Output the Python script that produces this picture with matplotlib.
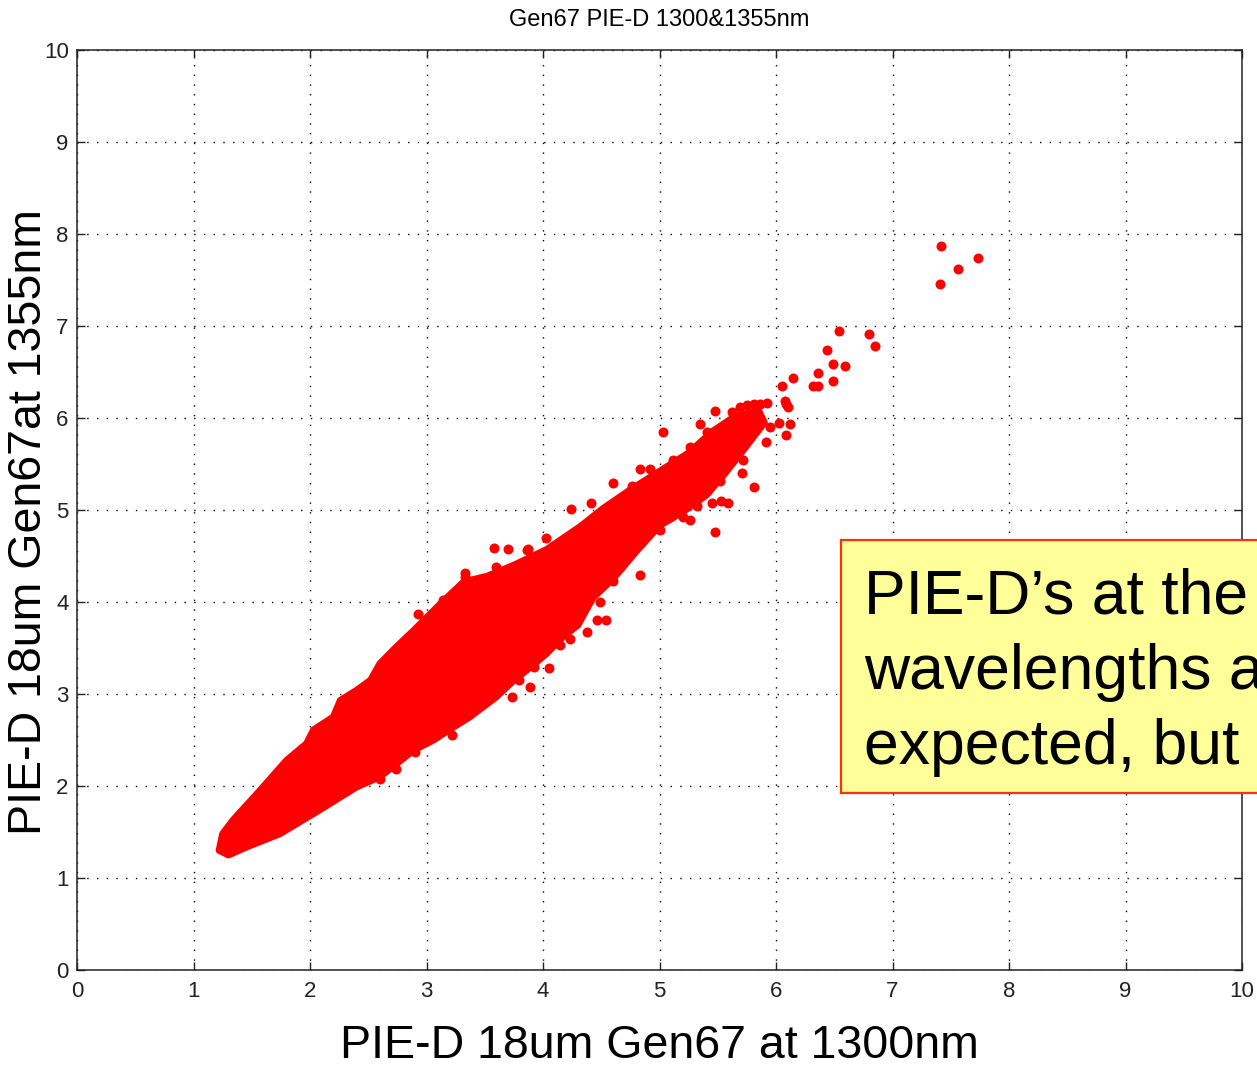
import numpy as np
import matplotlib.pyplot as plt
from matplotlib.patches import Rectangle

# ============================================
# DATA - PIE-D Gen67, 1300nm vs 1355nm
# ============================================

# dense core of the cloud (outline of the solid region)
core_x = [1.22, 1.25, 1.34, 1.57, 1.80, 1.97, 2.03, 2.20, 2.26, 2.40, 2.52, 2.60,
          2.74, 2.89, 3.12, 3.32, 3.52, 3.75, 4.03, 4.32, 4.52, 4.75, 5.00, 5.25,
          5.45, 5.65, 5.85,
          5.90, 5.70, 5.55, 5.40, 5.20, 5.00, 4.80, 4.60, 4.43, 4.30, 4.17, 4.03,
          3.89, 3.75, 3.60, 3.37, 3.23, 3.06, 2.89, 2.74, 2.60, 2.40, 2.26, 2.03,
          1.74, 1.46, 1.30]
core_y = [1.30, 1.48, 1.63, 1.95, 2.28, 2.46, 2.61, 2.75, 2.93, 3.04, 3.15, 3.33,
          3.51, 3.69, 3.98, 4.22, 4.28, 4.40, 4.57, 4.82, 5.02, 5.22, 5.42, 5.62,
          5.85, 6.02, 6.08,
          5.95, 5.62, 5.38, 5.16, 4.98, 4.83, 4.55, 4.25, 4.05, 3.75, 3.62, 3.44,
          3.29, 3.15, 2.97, 2.75, 2.64, 2.50, 2.39, 2.24, 2.10, 1.99, 1.88, 1.70,
          1.48, 1.34, 1.25]

# scattered devices outside the core
pts_x = [7.42, 7.56, 7.73, 7.41,
         6.54, 6.80, 6.85, 6.44, 6.49, 6.59, 6.36, 6.15, 6.05, 6.32, 6.36, 6.49,
         6.08, 6.10, 6.03, 6.12, 6.09, 5.91, 5.48, 5.62, 5.69, 5.75, 5.81, 5.86,
         5.92, 6.09, 5.35, 5.03, 5.81, 5.71, 5.72, 5.48, 5.45, 5.53, 5.59, 5.32,
         5.26, 4.60, 4.41, 4.24, 4.03, 3.86, 4.83, 4.92, 4.76, 5.12, 4.83, 4.66,
         5.26, 5.63, 5.95, 5.81, 5.86, 5.52, 5.41, 5.63, 5.63, 5.52, 5.52, 5.41,
         5.20, 5.09, 5.00, 5.29, 5.23, 5.41,
         2.93, 3.58, 3.33, 3.73, 3.22, 2.90, 2.74, 2.60, 3.79, 3.89, 4.05, 4.15,
         4.38, 4.46, 4.54, 3.70, 3.87, 3.14, 3.09, 2.92, 2.77, 3.33, 3.52, 3.60,
         3.75, 3.92, 4.23, 4.49, 4.32, 4.43, 4.60]
pts_y = [7.87, 7.62, 7.74, 7.46,
         6.95, 6.91, 6.78, 6.74, 6.59, 6.57, 6.49, 6.44, 6.35, 6.35, 6.35, 6.40,
         6.19, 6.12, 5.95, 5.93, 5.82, 5.74, 6.08, 6.06, 6.12, 6.14, 6.15, 6.15,
         6.16, 6.15, 5.93, 5.85, 5.25, 5.40, 5.54, 4.76, 5.08, 5.10, 5.08, 5.04,
         4.89, 5.29, 5.08, 5.01, 4.70, 4.57, 5.45, 5.45, 5.26, 5.54, 4.29, 4.38,
         5.68, 5.94, 5.90, 5.94, 5.97, 5.75, 5.85, 5.75, 5.61, 5.43, 5.32, 5.21,
         4.92, 4.92, 4.78, 5.25, 5.47, 5.58,
         3.87, 4.59, 4.31, 2.97, 2.55, 2.37, 2.19, 2.08, 3.15, 3.08, 3.28, 3.53,
         3.67, 3.80, 3.80, 4.58, 4.58, 4.02, 3.84, 3.66, 3.51, 4.27, 4.20, 4.38,
         4.38, 3.29, 3.60, 4.00, 3.98, 4.20, 4.23]

ticks = np.arange(0, 11, 1)

# ============================================
# GRAFIC
# ============================================

plt.rcParams['font.family'] = ['Liberation Sans', 'DejaVu Sans']

fig = plt.figure(figsize=(12.57, 10.74), dpi=100)
ax = fig.add_axes([0.06126, 0.09683, 0.92681, 0.85661])

ax.fill(core_x, core_y, color='red', ec='red', lw=5, joinstyle='round', zorder=3)
ax.plot(pts_x, pts_y, 'o', color='red', markersize=7.2, mec='none', zorder=3)

ax.set_xlim(0, 10)
ax.set_ylim(0, 10)
ax.set_xticks(ticks)
ax.set_yticks(ticks)
ax.grid(True, color='black', linestyle=(0, (1, 6)), linewidth=1.0)
ax.set_axisbelow(True)
ax.tick_params(direction='in', length=6, width=1, labelsize=16,
               top=True, right=True, colors='#222222')
ax.tick_params(axis='x', pad=8)
ax.tick_params(axis='y', pad=6)
for s in ax.spines.values():
    s.set_linewidth(1.1)
    s.set_color('#222222')

ax.set_title('Gen67 PIE-D 1300&1355nm', fontsize=17, pad=17)
ax.set_xlabel('PIE-D 18um Gen67 at 1300nm', fontsize=33.5, labelpad=16)
ax.set_ylabel('PIE-D 18um Gen67at 1355nm', fontsize=33.5)
ax.yaxis.set_label_coords(-0.022, 0.487)

# callout box
box = Rectangle((841 / 1257, 1 - 793 / 1074), 0.4, 253 / 1074,
                transform=fig.transFigure, facecolor='#FFFF99',
                edgecolor='#FF3300', linewidth=1.6, zorder=5)
fig.add_artist(box)
lines = ['PIE-D’s at the', 'wavelengths a', 'expected, but']
baselines = [613, 689, 764]
for txt, b in zip(lines, baselines):
    fig.text(864 / 1257, 1 - b / 1074, txt, fontsize=45, va='baseline',
             ha='left', zorder=6)

plt.savefig('out.png', dpi=100)
